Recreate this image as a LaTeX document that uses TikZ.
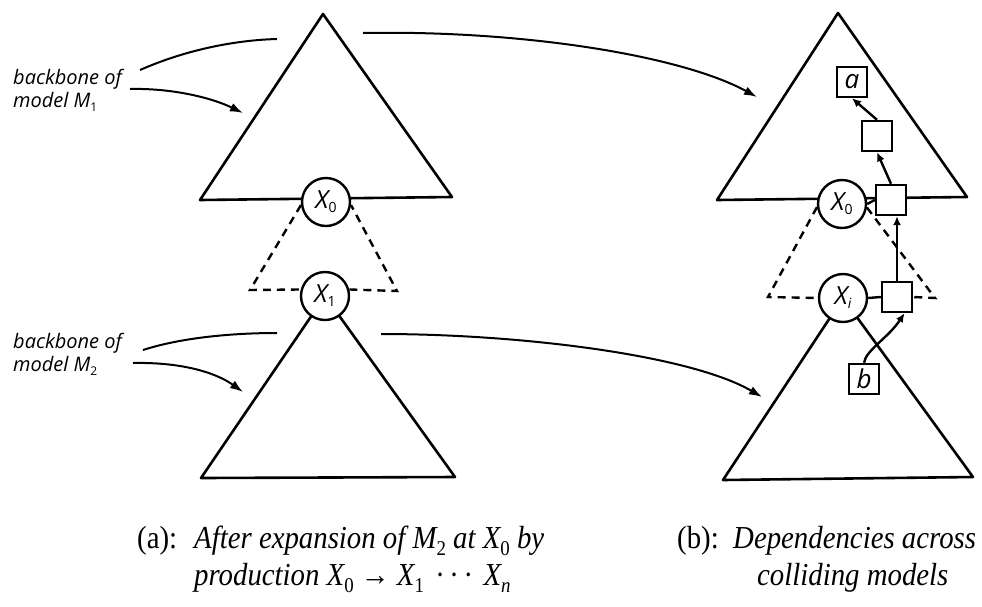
\documentclass[tikz,border=0pt]{standalone}
\usepackage{fontspec}
\setmainfont{Liberation Serif}
\newfontfamily\capfont{Liberation Serif}[FakeStretch=0.9]
\newfontfamily\lblfont{Open Sans}
\usetikzlibrary{arrows.meta}
\pgfdeclarelayer{bg}
\pgfsetlayers{bg,main}
\newcommand{\xsub}[1]{\raisebox{-4pt}{\fontsize{14}{14}\selectfont\upshape #1}}
\newcommand{\lsub}[1]{\raisebox{-4pt}{\fontsize{12}{12}\selectfont\upshape #1}}
\newcommand{\csub}[1]{\raisebox{-7pt}{\fontsize{21}{21}\selectfont\upshape #1}}
\begin{document}
\begin{tikzpicture}[x=1pt,y=-1pt,
  tri/.style={line width=2.6pt, line join=round},
  dashtri/.style={line width=2.4pt, dash pattern=on 8pt off 6pt},
  circ/.style={circle, draw, line width=2.4pt, fill=white, minimum size=48pt, inner sep=0pt,
    font=\lblfont\itshape\fontsize{25}{25}\selectfont},
  box/.style={rectangle, draw, line width=2.4pt, fill=white, minimum size=30pt, inner sep=0pt,
    font=\lblfont\itshape\fontsize{26}{26}\selectfont},
  lbl/.style={anchor=base west, inner sep=0pt, font=\lblfont\itshape\fontsize{20}{22}\selectfont},
  captxt/.style={anchor=base west, inner sep=0pt, font=\capfont\fontsize{32}{36}\selectfont},
  capit/.style={anchor=base west, inner sep=0pt, font=\capfont\itshape\fontsize{32}{36}\selectfont},
  ptr/.style={line width=2pt, -{Latex[length=13pt,width=9pt]}},
  thinline/.style={line width=2pt},
  dep/.style={line width=2.4pt, -{Latex[length=9pt,width=8pt]}},
]
\useasboundingbox (0,0) rectangle (982,606);

% ---------- nodes: left diagram
\node[circ] (X0L) at (326,202) {X\xsub{0}};
\node[circ] (X1L) at (325,296) {X\xsub{1}};

% ---------- nodes: right diagram
\node[circ] (X0R) at (842,204) {X\xsub{0}};
\node[circ] (XiR) at (843,298) {X\xsub{\itshape i}};
\node[box] (a)  at (852,82)  {a};
\node[box] (n1) at (877,136) {};
\node[box] (n2) at (891,200) {};
\node[box] (n3) at (897,297) {};
\node[box] (b)  at (864,379) {b};

% ---------- triangles and dashed expansions (behind)
\begin{pgfonlayer}{bg}
\draw[tri] (323,14) -- (200,200) -- (452,197) -- cycle;
\draw[tri] (X1L.center) -- (201,478) -- (455,477) -- cycle;
\draw[tri] (838,13) -- (717,200) -- (967,197) -- cycle;
\draw[tri] (XiR.center) -- (723,480) -- (973,477) -- cycle;
\draw[dashtri] (X0L.187) -- (250,290) -- (X1L.165);
\draw[dashtri] (X1L.15) -- (397,291) -- (X0L.-7);
\draw[dashtri] (X0R.187) -- (768,297) -- (XiR.180);
\draw[dashtri] (X0R.-8) -- (935,298) -- (n3.east);
\end{pgfonlayer}

% ---------- dependencies
\draw[line width=2.4pt] (X0R.east) -- (n2.west);
\draw[line width=2.4pt] (XiR.east) -- (n3.west);
\draw[dep] (b.north) .. controls (866,350) and (888,338) .. (n3.-65);
\draw[dep] (n3.north) -- (n3.north |- n2.south);
\draw[dep] (n2.north) -- (n1.south);
\draw[dep] (n1.north) -- (a.south);

% ---------- labels
\node[lbl] (l1a) at (13,84)  {backbone of};
\node[lbl] (l1b) at (13,107) {model M\lsub{1}};
\node[lbl] (l2a) at (13,348) {backbone of};
\node[lbl] (l2b) at (13,371) {model M\lsub{2}};

\coordinate (u1s) at (140,70);  \coordinate (u1e) at (277,39);
\coordinate (u1r) at (363,33);  \coordinate (u1t) at (757,97);
\coordinate (u2s) at (130,89);  \coordinate (u2t) at (243,113);
\coordinate (d1s) at (143,350); \coordinate (d1e) at (277,333);
\coordinate (d1r) at (381,334); \coordinate (d1t) at (762,397);
\coordinate (d2s) at (133,363); \coordinate (d2t) at (243,392);

\draw[thinline] (u1s) .. controls (190,48) and (240,40) .. (u1e);
\draw[ptr] (u1r) .. controls (520,30) and (680,55) .. (u1t);
\draw[ptr] (u2s) .. controls (170,88) and (210,97) .. (u2t);
\draw[thinline] (d1s) .. controls (180,338) and (230,333) .. (d1e);
\draw[ptr] (d1r) .. controls (520,334) and (690,355) .. (d1t);
\draw[ptr] (d2s) .. controls (180,362) and (215,372) .. (d2t);

% ---------- captions
\node[captxt] (ca) at (137,548) {(a):};
\node[capit] (ca1) at (194,548) {After expansion of M\csub{2} at X\csub{0} by};
\node[capit] (ca2) at (194,585) {production X\csub{0} → X\csub{1}\hspace{12pt}·\hspace{7pt}·\hspace{7pt}·\hspace{12pt}X\csub{\itshape n}};
\node[captxt] (cb) at (677,548) {(b):};
\node[capit] (cb1) at (733,548) {Dependencies across};
\node[capit] (cb2) at (757,585) {colliding models};
\end{tikzpicture}
\end{document}
